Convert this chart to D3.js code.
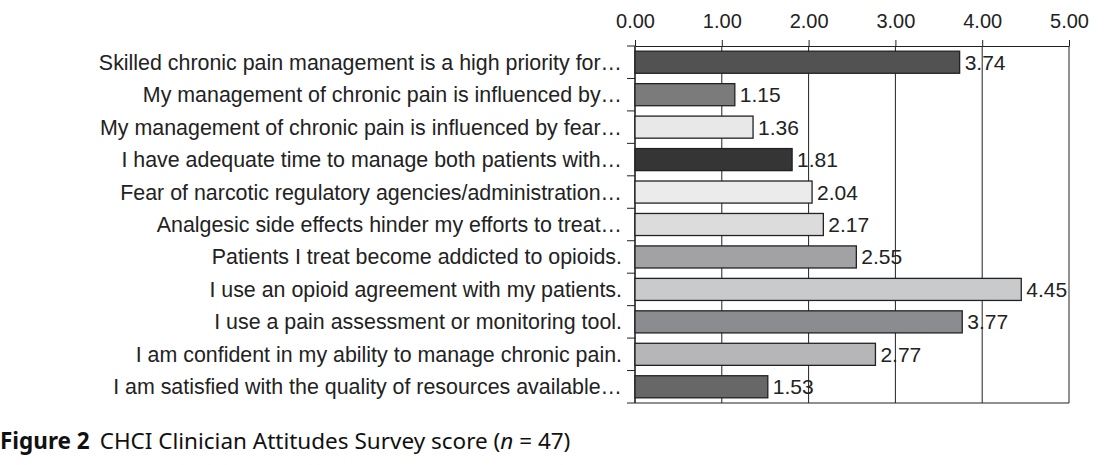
<!DOCTYPE html>
<html>
<head>
<meta charset="utf-8">
<script src="https://cdn.jsdelivr.net/npm/d3@7"></script>
<style>
  body { margin: 0; background: #fff; }
  svg { display: block; }
</style>
</head>
<body>
<div id="chart"></div>
<script>
// survey statements (top to bottom) and their mean scores
var statements = [
    "Skilled chronic pain management is a high priority for\u2026",
    "My management of chronic pain is influenced by\u2026",
    "My management of chronic pain is influenced by fear\u2026",
    "I have adequate time to manage both patients with\u2026",
    "Fear of narcotic regulatory agencies/administration\u2026",
    "Analgesic side effects hinder my efforts to treat\u2026",
    "Patients I treat become addicted to opioids.",
    "I use an opioid agreement with my patients.",
    "I use a pain assessment or monitoring tool.",
    "I am confident in my ability to manage chronic pain.",
    "I am satisfied with the quality of resources available\u2026"
];
var scores = [3.74, 1.15, 1.36, 1.81, 2.04, 2.17, 2.55, 4.45, 3.77, 2.77, 1.53];
var fills = ["#525252", "#7b7b7b", "#e8e8e8", "#353535", "#ebebeb", "#dcdcdc",
             "#a2a2a4", "#c9cacc", "#8b8c8f", "#b6b6b8", "#676767"];
var tickValues = [0, 1, 2, 3, 4, 5];

var width = 1115, height = 465;
var margin = { top: 46, left: 635, right: 46, bottom: 62 };
var font = "Liberation Sans, Arial, sans-serif";

var svg = d3.select("#chart").append("svg")
    .attr("width", width)
    .attr("height", height);

var x = d3.scaleLinear()
    .domain([0, 5])
    .range([margin.left, width - margin.right]);

var y = d3.scaleBand()
    .domain(statements)
    .range([margin.top, height - margin.bottom])
    .paddingInner(0.32)
    .paddingOuter(0.16);

var plotBottom = height - margin.bottom;

// vertical gridlines
svg.append("g").selectAll("line")
    .data(tickValues)
    .enter().append("line")
    .attr("x1", function (d) { return x(d); })
    .attr("x2", function (d) { return x(d); })
    .attr("y1", margin.top)
    .attr("y2", plotBottom)
    .attr("stroke", "#222")
    .attr("stroke-width", 1);

// bottom border
svg.append("line")
    .attr("x1", x(0)).attr("x2", x(5))
    .attr("y1", plotBottom).attr("y2", plotBottom)
    .attr("stroke", "#222").attr("stroke-width", 1.2);

// top axis
var xAxis = svg.append("g")
    .attr("transform", "translate(0," + margin.top + ")")
    .call(d3.axisTop(x).tickValues(tickValues).tickFormat(d3.format(".2f")).tickSize(6).tickPadding(12).tickSizeOuter(0));
xAxis.select(".domain").attr("stroke", "#222").attr("stroke-width", 1.2);
xAxis.selectAll(".tick line").attr("stroke", "#222");
xAxis.selectAll("text")
    .attr("font-family", font)
    .attr("font-size", "20px")
    .attr("fill", "#222");

// left axis line with ticks between categories
svg.append("line")
    .attr("x1", x(0)).attr("x2", x(0))
    .attr("y1", margin.top).attr("y2", plotBottom)
    .attr("stroke", "#222").attr("stroke-width", 1.2);

var step = y.step();
var boundaries = d3.range(statements.length + 1).map(function (i) { return margin.top + i * step; });
svg.append("g").selectAll("line")
    .data(boundaries)
    .enter().append("line")
    .attr("x1", x(0) - 8)
    .attr("x2", x(0))
    .attr("y1", function (d) { return d; })
    .attr("y2", function (d) { return d; })
    .attr("stroke", "#222");

// bars
var rows = statements.map(function (s, i) { return { label: s, value: scores[i], fill: fills[i] }; });

svg.append("g").selectAll("rect")
    .data(rows)
    .enter().append("rect")
    .attr("x", x(0))
    .attr("y", function (d) { return y(d.label); })
    .attr("width", function (d) { return x(d.value) - x(0); })
    .attr("height", y.bandwidth())
    .attr("fill", function (d) { return d.fill; })
    .attr("stroke", "#222")
    .attr("stroke-width", 1.3);

// value labels
svg.append("g").selectAll("text")
    .data(rows)
    .enter().append("text")
    .attr("x", function (d) { return x(d.value) + 5; })
    .attr("y", function (d) { return y(d.label) + y.bandwidth() / 2 + 7.5; })
    .text(function (d) { return d.value.toFixed(2); })
    .attr("font-family", font)
    .attr("font-size", "21px")
    .attr("fill", "#222");

// category labels
svg.append("g").selectAll("text")
    .data(rows)
    .enter().append("text")
    .attr("x", x(0) - 13)
    .attr("y", function (d) { return y(d.label) + y.bandwidth() / 2 + 7.5; })
    .attr("text-anchor", "end")
    .text(function (d) { return d.label; })
    .attr("font-family", font)
    .attr("font-size", "21.4px")
    .attr("fill", "#222");

// caption
var caption = svg.append("text")
    .attr("x", 0)
    .attr("y", 449)
    .attr("font-family", "Noto Sans, Open Sans, sans-serif")
    .attr("font-size", "22.5px")
    .attr("fill", "#111");
caption.append("tspan").attr("font-weight", "bold").text("Figure 2");
caption.append("tspan").attr("dx", 10).text("CHCI Clinician Attitudes Survey score (");
caption.append("tspan").attr("font-style", "italic").text("n");
caption.append("tspan").text(" = 47)");
</script>
</body>
</html>
